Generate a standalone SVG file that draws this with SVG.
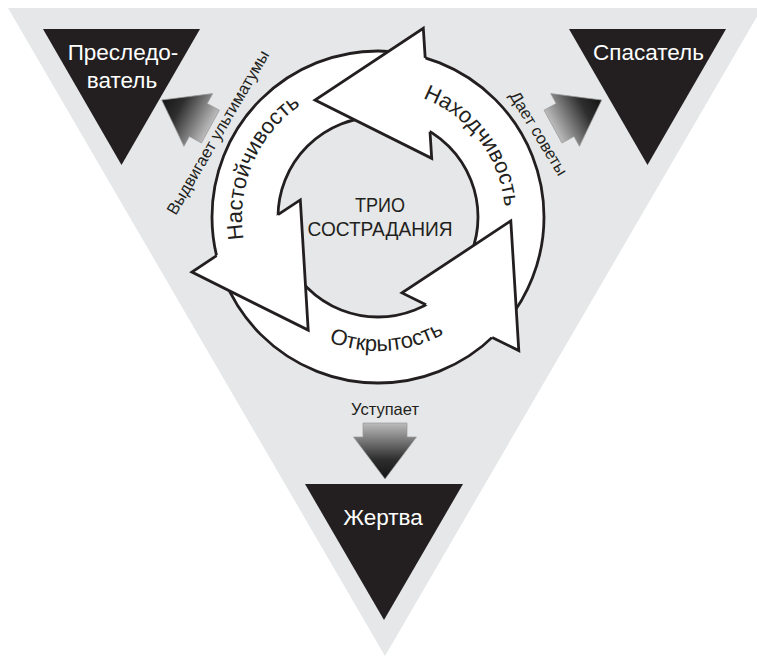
<svg xmlns="http://www.w3.org/2000/svg" width="757" height="659" viewBox="0 0 757 659">
<defs>
<style>
.bg{fill:#e6e7e8}
.tri{fill:#231f20}
.nlabel{font-family:"Liberation Sans",Arial,sans-serif;font-size:22.5px;fill:#ffffff;text-anchor:middle}
.ring{fill:#ffffff;stroke:#231f20;stroke-width:2.8}
.core{fill:#e6e7e8;stroke:#231f20;stroke-width:2.8}
.headfill{fill:#ffffff;stroke:none}
.headline{fill:none;stroke:#231f20;stroke-width:2.8;stroke-linejoin:miter;stroke-miterlimit:10}
.rlabel{font-family:"Liberation Sans",Arial,sans-serif;font-size:22px;fill:#231f20}
.clabel{font-family:"Liberation Sans",Arial,sans-serif;font-size:21px;fill:#231f20;text-anchor:middle}
.elabel{font-family:"Liberation Sans",Arial,sans-serif;font-size:16.5px;fill:#231f20;text-anchor:middle}
.garrow{fill:url(#grad);stroke:#9a9a9a;stroke-width:0.7}
</style>
<linearGradient id="grad" x1="0" y1="0" x2="1" y2="0">
<stop offset="0" stop-color="#141414"/>
<stop offset="0.35" stop-color="#2e2e2e"/>
<stop offset="1" stop-color="#bcbcbc"/>
</linearGradient>
<path id="p-nast" d="M 276.9 308 A 136 136 0 0 1 373.3 81.1"/>
<path id="p-nakh" d="M 351.6 92.8 A 127 127 0 0 1 490.1 276.6"/>
<path id="p-otkr" d="M 260.8 282 A 134 134 0 0 0 503.1 265"/>
</defs>

<polygon id="background" class="bg" points="8,8 762,8 385,656"/>

<g id="persecutor">
<polygon class="tri" points="43,29 200,29 121.5,165"/>
<text class="nlabel" x="123" y="60">Преследо-</text>
<text class="nlabel" x="122" y="88">ватель</text>
</g>

<g id="rescuer">
<polygon class="tri" points="569,29 726,29 647.5,165"/>
<text class="nlabel" x="648.5" y="60">Спасатель</text>
</g>

<g id="victim">
<polygon class="tri" points="305,484 463,484 384,620"/>
<text class="nlabel" x="383" y="525">Жертва</text>
</g>

<g id="trio">
<circle class="ring" cx="378" cy="217" r="166"/>
<circle class="core" cx="378" cy="217" r="100"/>
<g id="head-top">
<polygon class="headfill" points="315,100 423.3,28.3 431.7,158.3"/>
<polyline class="headline" points="425.2,57.9 423.3,28.3 315,100 431.7,158.3 430,131.6"/>
</g>
<g id="head-left">
<polygon class="headfill" points="308.2,330.1 191.9,272.1 300.3,199.9"/>
<polyline class="headline" points="216.6,255.7 191.9,272.1 308.2,330.1 300.3,199.9 278,214.7"/>
</g>
<g id="head-right">
<polygon class="headfill" points="510.8,220.9 518.8,350.6 402,292.9"/>
<polyline class="headline" points="492.2,337.4 518.8,350.6 510.8,220.9 402,292.9 426,304.7"/>
</g>
<text class="rlabel"><textPath href="#p-nast" startOffset="50%" text-anchor="middle">Настойчивость</textPath></text>
<text class="rlabel"><textPath href="#p-nakh" startOffset="50%" text-anchor="middle">Находчивость</textPath></text>
<text class="rlabel"><textPath href="#p-otkr" startOffset="50%" text-anchor="middle">Открытость</textPath></text>
<text class="clabel" x="380" y="211.7" textLength="50" lengthAdjust="spacingAndGlyphs">ТРИО</text>
<text class="clabel" x="380" y="235.7" textLength="145" lengthAdjust="spacingAndGlyphs">СОСТРАДАНИЯ</text>
</g>

<g id="connectors">
<g id="edge-persecutor">
<polygon class="garrow" transform="translate(161.7,100) rotate(28.6)" points="0,0 41.7,-30 41.7,-18.7 55.5,-18.7 55.5,18.7 41.7,18.7 41.7,30"/>
<text class="elabel" transform="translate(222.7,135.2) rotate(-59.8)">Выдвигает ультиматумы</text>
</g>
<g id="edge-rescuer">
<polygon class="garrow" transform="translate(601.7,100) scale(-1,1) rotate(28.6)" points="0,0 41.7,-30 41.7,-18.7 55.5,-18.7 55.5,18.7 41.7,18.7 41.7,30"/>
<text class="elabel" transform="translate(533.8,136.2) rotate(58.7)">Дает советы</text>
</g>
<g id="edge-victim">
<polygon class="garrow" transform="translate(385,479) rotate(-90)" points="0,0 42,-31.5 42,-22 56,-22 56,22 42,22 42,31.5"/>
<text class="elabel" x="385" y="415">Уступает</text>
</g>
</g>
</svg>
